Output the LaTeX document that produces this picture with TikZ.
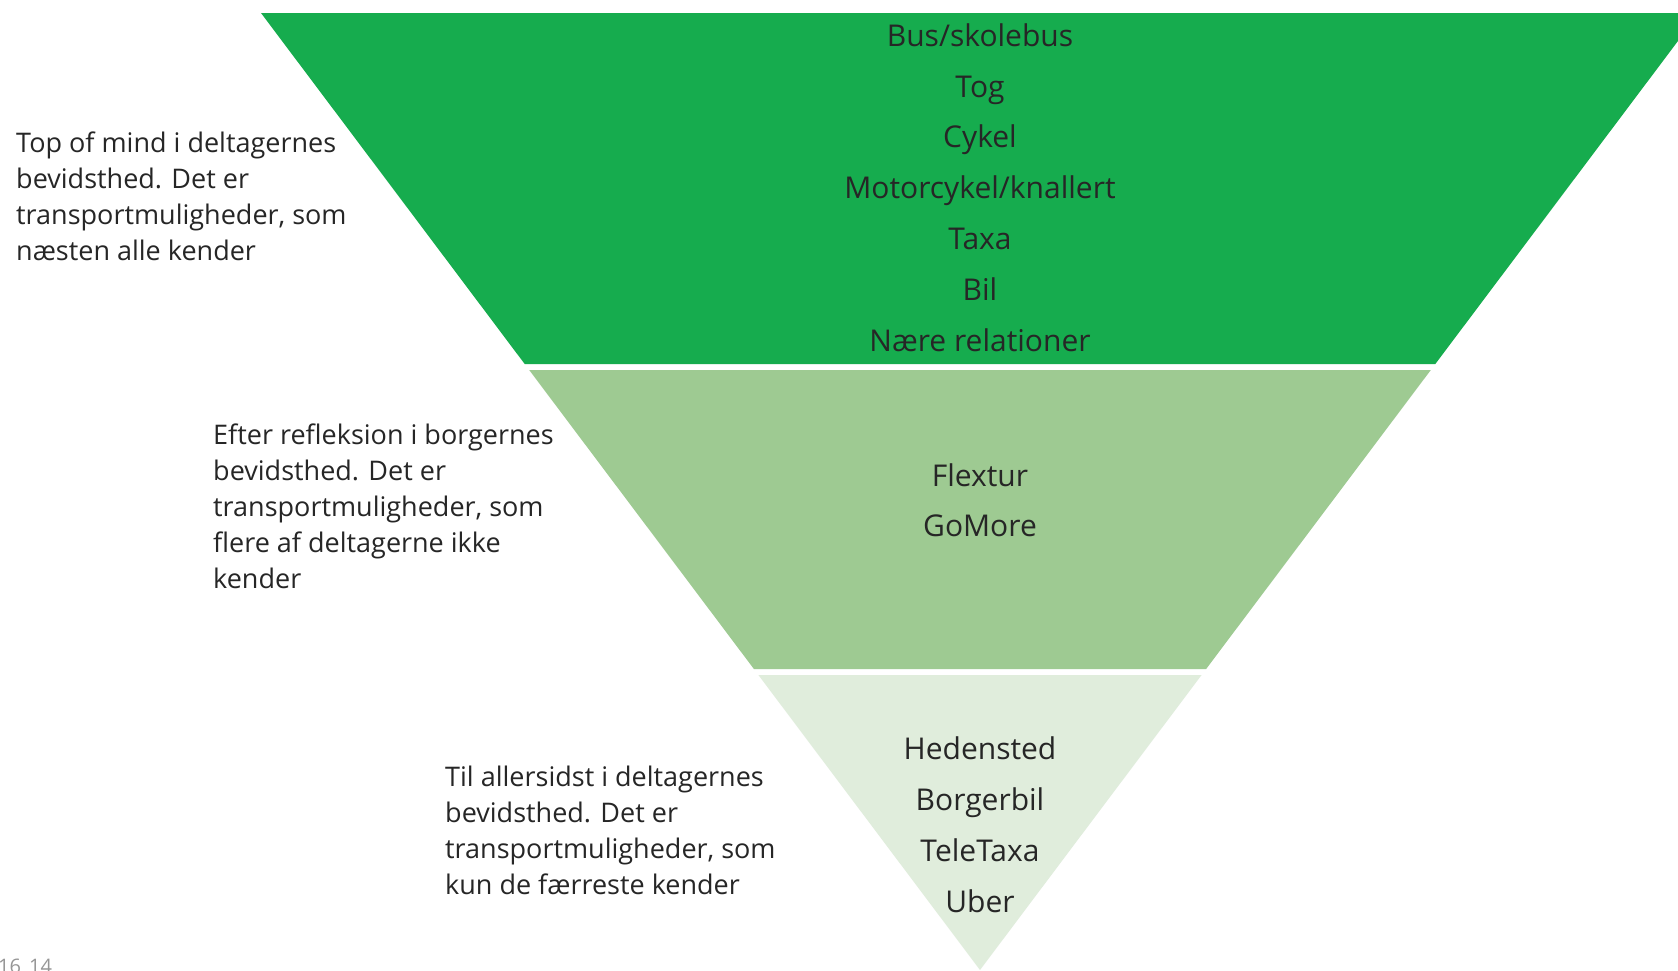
\documentclass[tikz,border=0pt]{standalone}
\usepackage{fontspec}
\setmainfont{Open Sans}
\definecolor{gtop}{RGB}{22,172,78}
\definecolor{gmid}{RGB}{158,202,146}
\definecolor{glow}{RGB}{224,237,220}
\definecolor{txt}{RGB}{38,38,38}
\definecolor{pg}{RGB}{150,150,150}
\begin{document}
\begin{tikzpicture}[x=1pt,y=-1pt,
  item/.style={anchor=base,inner sep=0pt,text=txt,font=\fontsize{30}{36}\selectfont},
  side/.style={anchor=base west,inner sep=0pt,text=txt,align=left,font=\fontsize{27}{35.8}\selectfont}]
\useasboundingbox (0,0) rectangle (1678,970);
\clip (0,0) rectangle (1678,970);
\fill[white] (0,0) rectangle (1678,970);
% bands
\fill[gtop] (261,13) -- (1699,13) -- (1435.3,364) -- (524.7,364) -- cycle;
\fill[gmid] (529.2,370) -- (1430.8,370) -- (1206.1,669) -- (753.9,669) -- cycle;
\fill[glow] (758.4,675) -- (1201.6,675) -- (980,970) -- cycle;
% top items
\node[item] (t1) at (980,46) {Bus/skolebus};
\node[item] (t2) at (980,97) {Tog};
\node[item] (t3) at (980,147) {Cykel};
\node[item] (t4) at (980,198) {Motorcykel/knallert};
\node[item] (t5) at (980,249) {Taxa};
\node[item] (t6) at (980,300) {Bil};
\node[item] (t7) at (980,351) {Nære relationer};
% middle items
\node[item] (m1) at (980,486) {Flextur};
\node[item] (m2) at (980,536) {GoMore};
% bottom items
\node[item] (b1) at (980,759) {Hedensted};
\node[item] (b2) at (980,810) {Borgerbil};
\node[item] (b3) at (980,861) {TeleTaxa};
\node[item] (b4) at (980,912) {Uber};
% side texts (anchored at the baseline of the last line)
\node[side] (s1) at (16,260) {Top of mind i deltagernes\\bevidsthed. Det er\\transportmuligheder, som\\næsten alle kender};
\node[side] (s2) at (213,588) {Efter refleksion i borgernes\\bevidsthed. Det er\\transportmuligheder, som\\flere af deltagerne ikke\\kender};
\node[side] (s3) at (445,894) {Til allersidst i deltagernes\\bevidsthed. Det er\\transportmuligheder, som\\kun de færreste kender};
% page number
\node[anchor=base west,inner sep=0pt,text=pg,font=\fontsize{20}{24}\selectfont] (pn) at (-2,973) {16\hspace{8pt}14};
\end{tikzpicture}
\end{document}
